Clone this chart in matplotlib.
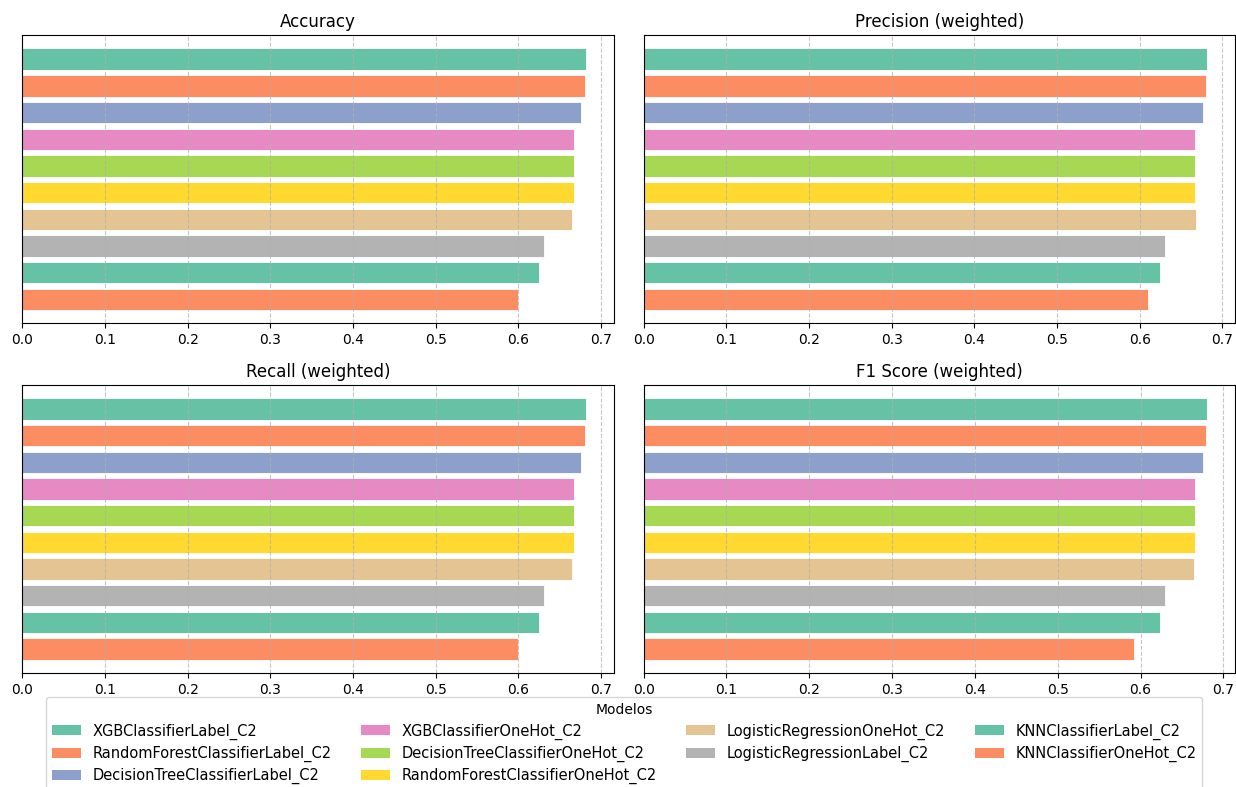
import matplotlib.pyplot as plt
from matplotlib.patches import Patch

modelos = [
    "XGBClassifierLabel_C2",
    "RandomForestClassifierLabel_C2",
    "DecisionTreeClassifierLabel_C2",
    "XGBClassifierOneHot_C2",
    "DecisionTreeClassifierOneHot_C2",
    "RandomForestClassifierOneHot_C2",
    "LogisticRegressionOneHot_C2",
    "LogisticRegressionLabel_C2",
    "KNNClassifierLabel_C2",
    "KNNClassifierOneHot_C2",
]

accuracy = [0.6816, 0.6802, 0.6755, 0.6668, 0.6667, 0.6667, 0.6650, 0.6310, 0.6250, 0.5996]
precision = [0.6816, 0.6804, 0.6768, 0.6667, 0.6666, 0.6666, 0.6680, 0.6310, 0.6246, 0.6097]
recall = [0.6816, 0.6802, 0.6755, 0.6668, 0.6667, 0.6667, 0.6650, 0.6310, 0.6250, 0.5996]
f1 = [0.6804, 0.6792, 0.6755, 0.6655, 0.6655, 0.6655, 0.6639, 0.6298, 0.6234, 0.5920]

metricas = {
    "Accuracy": accuracy,
    "Precision (weighted)": precision,
    "Recall (weighted)": recall,
    "F1 Score (weighted)": f1,
}

cores = plt.get_cmap("Set2").colors
cores = [cores[i % 8] for i in range(len(modelos))]

fig, axes = plt.subplots(2, 2, figsize=(12.36, 7.87), dpi=100)
fig.subplots_adjust(left=0.018, right=0.9995, top=0.955, bottom=0.145,
                    wspace=0.05, hspace=0.215)

for ax, (nome, valores) in zip(axes.flat, metricas.items()):
    ax.barh(range(len(modelos)), valores, height=0.8, color=cores,
            edgecolor="white", linewidth=0.6)
    ax.invert_yaxis()
    ax.set_yticks([])
    ax.set_title(nome, fontsize=12)
    ax.grid(axis="x", linestyle="--", alpha=0.7)
    ax.tick_params(axis="x", labelsize=10)

handles = [Patch(facecolor=c, label=m) for c, m in zip(cores, modelos)]
fig.legend(handles=handles, title="Modelos", loc="upper center",
           bbox_to_anchor=(0.505, 0.123), ncol=4, fontsize=10.5,
           title_fontsize=10, columnspacing=2.0, labelspacing=0.42)

fig.savefig("out.png")
